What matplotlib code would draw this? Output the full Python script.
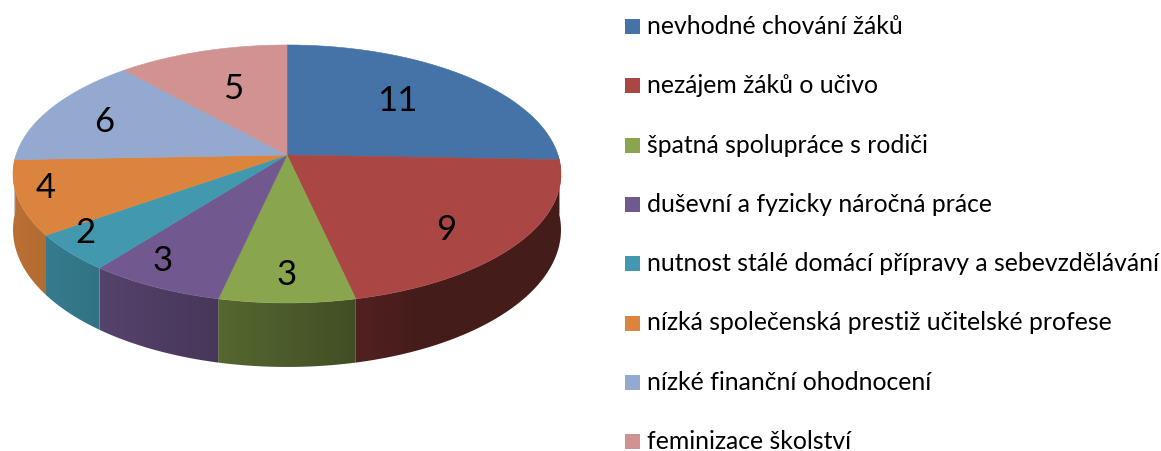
import numpy as np
import matplotlib
matplotlib.use("Agg")
import matplotlib.pyplot as plt
from matplotlib.patches import Polygon, Rectangle
import matplotlib.colors as mcolors

categories = [
    "nevhodné chování žáků",
    "nezájem žáků o učivo",
    "špatná spolupráce s rodiči",
    "duševní a fyzicky náročná práce",
    "nutnost stálé domácí přípravy a sebevzdělávání",
    "nízká společenská prestiž učitelské profese",
    "nízké finanční ohodnocení",
    "feminizace školství",
]
values = [11, 9, 3, 3, 2, 4, 6, 5]
colors = ["#4572A7", "#AA4643", "#89A54E", "#71588F",
          "#4198AF", "#DB843D", "#93A9CF", "#D19392"]

W, H = 1161, 451
fig = plt.figure(figsize=(W / 100, H / 100), dpi=100)
ax = fig.add_axes([0, 0, 1, 1])
ax.axis("off")

# 3D pie geometry (pixel space)
cx, cy = 287.0, 155.0
Rx, Ry = 271.0, 126.2
k = 0.147          # perspective strength
depth = 54.6       # thickness


def proj(X, Z):
    s = 1.0 / (1.0 - k * Z)
    return cx + Rx * X * s, cy + Ry * Z * s, s


def rim(t_deg, r=1.0):
    t = np.radians(t_deg)
    X = r * np.sin(t)
    Z = -r * np.cos(t)
    return proj(X, Z)


total = float(sum(values))
bounds = np.concatenate([[0], np.cumsum(values)]) / total * 360.0


def shade(X):
    return np.maximum(0.40, 0.55 - 0.32 * X)


# sides (front half only) - gradient image clipped to side outline
for i, (v, c) in enumerate(zip(values, colors)):
    a0, a1 = bounds[i], bounds[i + 1]
    lo, hi = max(a0, 90.0), min(a1, 270.0)
    if hi <= lo:
        continue
    ts = np.linspace(lo, hi, 200)
    top = [rim(t) for t in ts]
    upper = [(p[0], p[1]) for p in top]
    lower = [(p[0], p[1] + depth * p[2]) for p in top][::-1]
    outline = Polygon(upper + lower, closed=True, transform=ax.transData)
    xs = [p[0] for p in upper]
    ys = [p[1] for p in upper + lower]
    xmin, xmax = min(xs) - 1, max(xs) + 1
    ymin, ymax = min(ys) - 1, max(ys) + 1
    ncol = 300
    xc = np.linspace(xmin, xmax, ncol)
    Xn = np.clip((xc - cx) / (Rx * 1.08), -1, 1)
    base = np.array(mcolors.to_rgb(c))
    img = np.clip(base[None, :] * shade(Xn)[:, None], 0, 1)[None, :, :]
    im = ax.imshow(img, extent=(xmin, xmax, ymax, ymin), aspect="auto",
                   interpolation="bilinear", zorder=1)
    im.set_clip_path(outline)

# tops
for i, (v, c) in enumerate(zip(values, colors)):
    a0, a1 = bounds[i], bounds[i + 1]
    ts = np.linspace(a0, a1, max(20, int((a1 - a0) * 2)))
    pts = [(cx, cy)] + [rim(t)[:2] for t in ts]
    ax.add_patch(Polygon(pts, closed=True, facecolor=c, edgecolor=c, linewidth=0.4,
                         joinstyle="round", zorder=2))

# data labels
for i, v in enumerate(values):
    tm = np.radians(0.5 * (bounds[i] + bounds[i + 1]))
    X, Z = np.sin(tm), -np.cos(tm)
    front_right = max(Z, 0) * max(X, 0)
    rx = 0.80 + 0.285 * Z - 0.05 * X - 0.37 * front_right
    ry = 0.75 + 0.20 * Z + 0.1 * front_right
    lx, ly = cx + Rx * rx * X, cy + Ry * ry * Z
    ax.text(lx, ly, str(v), ha="center", va="center", fontsize=25,
            family="Lato", color="black", zorder=3)

# legend
sq = 15
lx0 = 625
ly0 = 19
dy = 59.3
for i, (lab, c) in enumerate(zip(categories, colors)):
    y = ly0 + i * dy
    ax.add_patch(Rectangle((lx0, y), sq, sq, facecolor=c, edgecolor="none"))
    ax.text(lx0 + sq + 7, y + sq, lab, ha="left", va="baseline", fontsize=17.8,
            family="Lato", color="black")

ax.set_xlim(0, W)
ax.set_ylim(H, 0)
fig.savefig("out.png", dpi=100)
